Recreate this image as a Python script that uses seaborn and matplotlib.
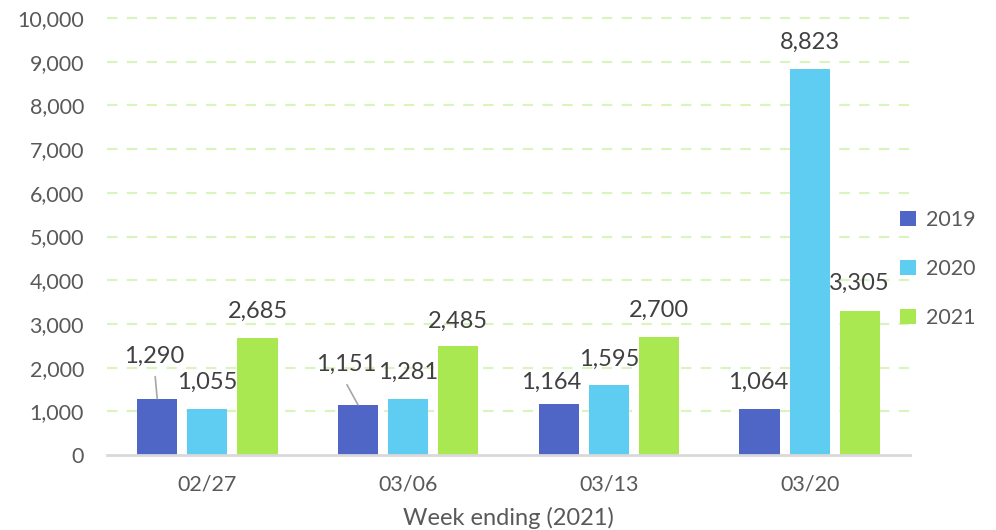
import matplotlib
matplotlib.use("Agg")
import matplotlib.pyplot as plt
import seaborn as sns
import pandas as pd
from matplotlib.patches import Patch
from matplotlib.ticker import FuncFormatter

weeks = ["02/27", "03/06", "03/13", "03/20"]
years = ["2019", "2020", "2021"]
v2019 = [1290, 1151, 1164, 1064]
v2020 = [1055, 1281, 1595, 8823]
v2021 = [2685, 2485, 2700, 3305]
yticks = list(range(0, 10001, 1000))
xlabel = "Week ending (2021)"

colors = ["#4F66C7", "#5FCDF2", "#A9E850"]

rows = []
for y, vals in zip(years, [v2019, v2020, v2021]):
    for w, v in zip(weeks, vals):
        rows.append({"week": w, "year": y, "value": v})
df = pd.DataFrame(rows)

sns.set_theme(style="white")
plt.rcParams["font.family"] = ["Lato", "DejaVu Sans"]

fig = plt.figure(figsize=(9.96, 5.30), dpi=100)
ax = fig.add_axes([107/996, 75/530, 803/996, 437/530])

sns.barplot(data=df, x="week", y="value", hue="year", order=weeks, hue_order=years,
            palette=colors, width=0.75, gap=0.2, saturation=1, ax=ax, legend=False,
            edgecolor="none", linewidth=0)

ax.set_xlim(-0.5, 3.5)
ax.set_ylim(0, 10000)
ax.set_yticks(yticks)
ax.yaxis.set_major_formatter(FuncFormatter(lambda v, p: f"{int(v):,}"))
ax.tick_params(axis="y", length=0, pad=16.5, labelsize=15.5, labelcolor="#595959")
ax.tick_params(axis="x", length=0, pad=14, labelsize=15.5, labelcolor="#595959")
ax.set_xlabel(xlabel, fontsize=17, color="#595959", labelpad=9)
ax.set_ylabel("")

for g in yticks[1:]:
    ax.axhline(g, color="#D9F5BE", lw=1.5, ls=(0, (5, 4.5)), zorder=0, clip_on=False)

for s in ["top", "right", "left"]:
    ax.spines[s].set_visible(False)
ax.spines["bottom"].set_color("#D9D9D9")
ax.spines["bottom"].set_linewidth(2)

# label offsets in pixels (dx, dy) from bar top centre
offsets = {
    (0, 0): (-3, 42, True), (1, 0): (0, 26.5, False), (2, 0): (0, 26, False),
    (0, 1): (-12, 40, True), (1, 1): (0, 27, False), (2, 1): (0, 25, False),
    (0, 2): (-8, 22, False), (1, 2): (0, 26, False), (2, 2): (0, 27, False),
    (0, 3): (-1, 26.5, False), (1, 3): (0, 27, False), (2, 3): (-1, 27.5, False),
}
for hi, cont in enumerate(ax.containers):
    for wi, bar in enumerate(cont):
        h = bar.get_height()
        cx = bar.get_x() + bar.get_width() / 2
        dx, dy, leader = offsets[(hi, wi)]
        ax.annotate(f"{int(round(h)):,}", xy=(cx, h), xytext=(dx, dy),
                    textcoords="offset pixels", ha="center", va="center",
                    fontsize=17, color="#404040", zorder=5)
        if leader:
            ax.annotate("", xy=(cx, h), xytext=(dx + 1, dy - 20),
                        textcoords="offset pixels",
                        arrowprops=dict(arrowstyle="-", color="#A6A6A6", lw=1.2,
                                        shrinkA=0, shrinkB=0))

handles = [Patch(facecolor=c, edgecolor="none") for c in colors]
fig.legend(handles, years, loc="center left", bbox_to_anchor=(900/996, 1 - 269/530),
           frameon=False, fontsize=15.5, labelcolor="#595959",
           handlelength=0.75, handleheight=0.75, handletextpad=0.45,
           labelspacing=1.35, borderpad=0, borderaxespad=0)

fig.savefig("out.png", dpi=100)
